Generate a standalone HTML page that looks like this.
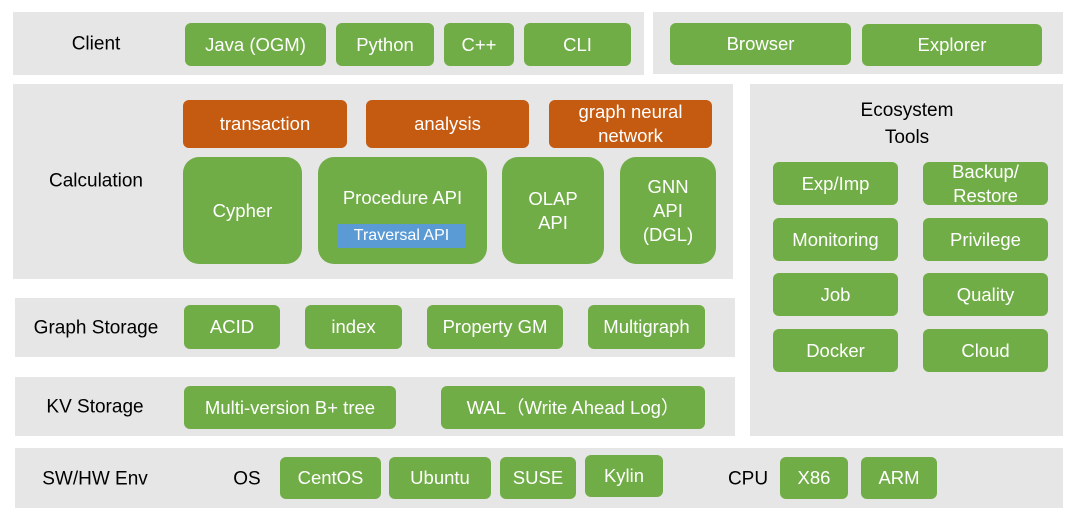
<!DOCTYPE html><html><head><style>
body{margin:0;width:1074px;height:522px;background:#fff;font-family:"Liberation Sans",sans-serif;position:relative;overflow:hidden}
div{position:absolute;box-sizing:border-box}
.p{background:#e7e6e6}
.g,.o,.b{background:#70ad47;color:#fff;border-radius:6px;display:flex;align-items:center;justify-content:center;text-align:center;font-size:18.5px;line-height:24px;white-space:nowrap}
.o{background:#c55a11}
.b{background:#5b9bd5;border-radius:0;font-size:16px}
.r{border-radius:16px}
.l{font-size:19px;color:#000;transform:translate(-50%,-50%);white-space:nowrap;text-align:center;line-height:27px}
</style></head><body>
<div class="p" style="left:13px;top:12px;width:631px;height:63px"></div>
<div class="p" style="left:653px;top:12px;width:410px;height:62px"></div>
<div class="p" style="left:13px;top:84px;width:720px;height:195px"></div>
<div class="p" style="left:750px;top:84px;width:313px;height:352px"></div>
<div class="p" style="left:15px;top:298px;width:720px;height:59px"></div>
<div class="p" style="left:15px;top:377px;width:720px;height:59px"></div>
<div class="p" style="left:15px;top:448px;width:1048px;height:60px"></div>

<div class="l" style="left:96px;top:44px">Client</div>
<div class="l" style="left:96px;top:181px">Calculation</div>
<div class="l" style="left:96px;top:328px">Graph Storage</div>
<div class="l" style="left:95px;top:407px">KV Storage</div>
<div class="l" style="left:95px;top:479px">SW/HW Env</div>
<div class="l" style="left:247px;top:479px">OS</div>
<div class="l" style="left:748px;top:479px">CPU</div>
<div class="l" style="left:907px;top:124px">Ecosystem<br>Tools</div>

<div class="g" style="left:185px;top:23px;width:141px;height:43px">Java (OGM)</div>
<div class="g" style="left:336px;top:23px;width:98px;height:43px">Python</div>
<div class="g" style="left:444px;top:23px;width:70px;height:43px">C++</div>
<div class="g" style="left:524px;top:23px;width:107px;height:43px">CLI</div>
<div class="g" style="left:670px;top:23px;width:181px;height:42px">Browser</div>
<div class="g" style="left:862px;top:24px;width:180px;height:42px">Explorer</div>

<div class="o" style="left:183px;top:100px;width:164px;height:48px">transaction</div>
<div class="o" style="left:366px;top:100px;width:163px;height:48px">analysis</div>
<div class="o" style="left:549px;top:100px;width:163px;height:48px">graph neural<br>network</div>

<div class="g r" style="left:183px;top:157px;width:119px;height:107px">Cypher</div>
<div class="g r" style="left:318px;top:157px;width:169px;height:107px;align-items:flex-start;padding-top:29px">Procedure API</div>
<div class="b" style="left:338px;top:224px;width:127px;height:24px">Traversal API</div>
<div class="g r" style="left:502px;top:157px;width:102px;height:107px">OLAP<br>API</div>
<div class="g r" style="left:620px;top:157px;width:96px;height:107px">GNN<br>API<br>(DGL)</div>

<div class="g" style="left:184px;top:305px;width:96px;height:44px">ACID</div>
<div class="g" style="left:305px;top:305px;width:97px;height:44px">index</div>
<div class="g" style="left:427px;top:305px;width:136px;height:44px">Property GM</div>
<div class="g" style="left:588px;top:305px;width:117px;height:44px">Multigraph</div>

<div class="g" style="left:184px;top:386px;width:212px;height:43px">Multi-version B+ tree</div>
<div class="g" style="left:441px;top:386px;width:264px;height:43px">WAL（Write Ahead Log）</div>

<div class="g" style="left:280px;top:457px;width:101px;height:42px">CentOS</div>
<div class="g" style="left:389px;top:457px;width:102px;height:42px">Ubuntu</div>
<div class="g" style="left:500px;top:457px;width:76px;height:42px">SUSE</div>
<div class="g" style="left:585px;top:455px;width:78px;height:42px">Kylin</div>
<div class="g" style="left:780px;top:457px;width:68px;height:42px">X86</div>
<div class="g" style="left:861px;top:457px;width:76px;height:42px">ARM</div>

<div class="g" style="left:773px;top:162px;width:125px;height:43px">Exp/Imp</div>
<div class="g" style="left:923px;top:162px;width:125px;height:43px">Backup/<br>Restore</div>
<div class="g" style="left:773px;top:218px;width:125px;height:43px">Monitoring</div>
<div class="g" style="left:923px;top:218px;width:125px;height:43px">Privilege</div>
<div class="g" style="left:773px;top:273px;width:125px;height:43px">Job</div>
<div class="g" style="left:923px;top:273px;width:125px;height:43px">Quality</div>
<div class="g" style="left:773px;top:329px;width:125px;height:43px">Docker</div>
<div class="g" style="left:923px;top:329px;width:125px;height:43px">Cloud</div>
</body></html>
